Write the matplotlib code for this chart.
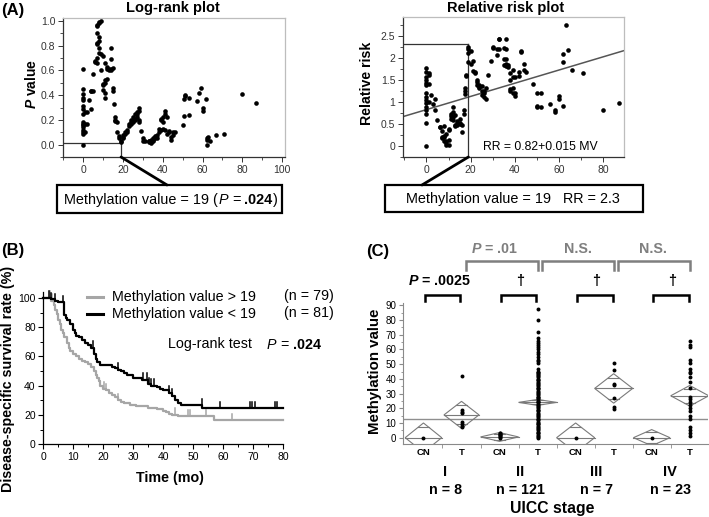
import matplotlib
matplotlib.use('Agg')
import matplotlib.pyplot as plt
from matplotlib.patches import Rectangle, Polygon, ConnectionPatch
from matplotlib.lines import Line2D
from matplotlib.ticker import MultipleLocator, FixedLocator
import numpy as np

plt.rcParams['font.family'] = ['Liberation Sans', 'DejaVu Sans']
plt.rcParams['mathtext.fontset'] = 'custom'
plt.rcParams['mathtext.rm'] = 'Liberation Sans'
plt.rcParams['mathtext.it'] = 'Liberation Sans:italic'
plt.rcParams['mathtext.bf'] = 'Liberation Sans:bold'
plt.rcParams['mathtext.bfit'] = 'Liberation Sans:italic:bold'

# ---------------- data ----------------
# Panel A left: log-rank plot (methylation cutoff vs P value)
lr_mv = [0,0,0,0,0,0,0,0,0,0,0,0,0,0,0,0,
         1,1,1, 2,2, 3, 4,4,4, 5,5, 6,6,
         7,7,7,7,7,7,7, 8,8,8,8,8,8, 9,9,9, 10,10,10,10, 11,11,11,11,11,
         12,12,12, 13,13, 14,14,14,14, 15,15,15, 15.5, 16,16,16, 17,17, 18,18, 19,19,
         20,20,20, 21,21, 22,22, 23,23, 24,24,24, 25,25,25, 26,26,26, 27,27,27, 28,28,28,28,
         29, 30,30, 31, 33,33,33, 34,34,34, 35,35,35, 36,36,36, 37,37, 38,38, 39,39,39, 40,40,40,
         41,41,41, 42,42, 43,43, 44,44, 45,45, 46, 50, 50.5,50.5, 51,51, 53,53, 57, 58, 59, 60,60,
         62, 62.5,62.5,62.5, 63, 64, 67, 71, 80, 87]
lr_p = [0.61,0.45,0.41,0.38,0.36,0.31,0.29,0.25,0.18,0.17,0.16,0.14,0.12,0.10,0.09,0.00,
        0.26,0.17,0.10, 0.26,0.17, 0.36, 0.43,0.43,0.29, 0.57,0.43, 0.67,0.68,
        0.97,0.96,0.90,0.82,0.81,0.70,0.66, 0.99,0.98,0.87,0.84,0.78,0.74, 1.00,0.73,0.60,
        0.72,0.49,0.48,0.44, 0.66,0.52,0.50,0.42,0.38,
        0.63,0.61,0.53, 0.61,0.60, 0.78,0.69,0.61,0.60, 0.62,0.46,0.43, 0.33, 0.22,0.20,0.19,
        0.18,0.10, 0.07,0.05, 0.024,0.03,
        0.06,0.08,0.05, 0.09,0.10, 0.10,0.12, 0.15,0.17, 0.17,0.18,0.20, 0.20,0.22,0.18,
        0.25,0.20,0.21, 0.26,0.25,0.22, 0.30,0.27,0.20,0.18,
        0.11, 0.05,0.03, 0.03, 0.03,0.02,0.03, 0.02,0.04,0.01, 0.03,0.05,0.04, 0.05,0.06,0.07,
        0.05,0.08, 0.13,0.10, 0.20,0.21,0.12, 0.22,0.13,0.18,
        0.27,0.25,0.12, 0.22,0.09, 0.10,0.11, 0.04,0.06, 0.10,0.08, 0.10, 0.16, 0.23,0.37,
        0.40,0.39, 0.24,0.38, 0.35, 0.42, 0.46, 0.30,0.27,
        0.37, 0.05,0.04,0.00, 0.06, 0.03, 0.08, 0.09, 0.41, 0.34]
cut_mv = 19
cut_p = 0.024

# Panel A right: relative risk plot
rr_mv = [0,0,0,0,0,0,0,0,0,0,0,0,0,0,0,
         1,1,1,1, 2, 3, 4,4, 5, 6,6, 7,7,7, 8,8,8,8, 9,9,9,9, 10,10,10,10,
         11,11,11, 12,12,12,12, 13,13,13, 14,14,14, 15,15,15, 16,16, 17,17, 17.5,17.5,17.5, 18,18,
         19,19,19,19, 20,20, 21,21, 22,22, 23,23,23, 24,24,24, 25,25,25, 26,26,26, 27,27, 28, 29,
         30,30, 32,32, 33,33,33, 35,35,35, 36,36,36,36,36, 37,37, 38,38,38,38, 39,39,39,39, 40,40,40,
         42,42, 43,43, 44,44, 45, 48, 50,50,50, 52,52, 56, 58,58, 60,60, 62,62,62, 63, 64, 66, 71, 80, 87]
rr_val = [1.76,1.68,1.57,1.49,1.42,1.38,1.19,1.11,1.04,0.96,0.89,0.81,0.73,0.52,0.00,
          1.65,1.60,1.40,1.00, 1.15, 0.95, 1.05,0.80, 0.58, 0.43,0.43, 0.20,0.17,0.33,
          0.10,0.20,0.45,0.23, 0.05,0.27,0.10,0.02, 0.35,0.12,0.38,0.02,
          0.72,0.68,0.60, 0.88,0.77,0.66,0.58, 0.70,0.47,0.44, 0.55,0.47,0.52, 0.60,0.52,0.50,
          0.47,0.30, 0.80,0.72, 1.30,1.25,1.18, 1.60,1.58,
          2.25,2.20,2.10,1.90, 2.15,1.85, 1.92,1.70, 1.68,1.65, 1.50,1.45,1.38, 1.38,1.33,1.30,
          1.35,1.25,1.15, 1.10,1.20,1.25, 1.05,1.30, 1.60, 1.93,
          2.24,2.22, 2.05,2.20, 2.42,2.42,2.20, 1.98,2.22,1.83, 2.43,2.20,1.98,1.85,1.80,
          1.83,1.78, 1.65,1.50,1.25,1.28, 1.72,1.55,1.20,1.30, 1.55,1.12,1.20,
          1.68,1.58, 2.16,2.12, 1.85,1.72, 1.68, 1.40, 1.20,0.90,0.88, 1.20,0.88, 0.95,
          0.82,0.77, 1.05,1.12, 2.08,1.90,0.90, 2.75, 2.17, 1.73, 1.66, 0.82, 0.97]
rr_intercept = 0.82
rr_slope = 0.015
cut_rr = 2.3

# Panel B: Kaplan-Meier curves
hi_t = [0, 2.5, 3.5, 4, 4.5, 5, 5.5, 6, 6.5, 7, 8, 8.5, 9, 10, 11, 12, 13, 14, 15, 16, 17,
        17.5, 18, 18.5, 19, 20, 21, 22, 23, 24, 25, 26, 27, 29, 31, 35, 38, 40, 41, 42, 43, 45, 57]
hi_s = [100, 98, 95, 92, 89, 85, 82, 78, 76, 73, 69, 66, 64, 62, 60, 58, 57, 56, 55, 53, 50,
        47, 45, 43, 40, 38, 37, 35, 34, 32, 30, 29, 28, 27, 26, 25, 24, 23, 22, 21, 20, 19, 16.5]
hi_cens = [2.2, 2.8, 20.2, 21, 25, 44, 48.2, 49, 54.1, 63]
lo_t = [0, 2.5, 4, 5, 7, 7.5, 8, 9, 10, 10.5, 11, 12, 13, 14, 15, 16, 17, 17.5, 18, 19, 23,
        24, 25, 26, 27, 28, 30, 33, 35, 36, 38, 39, 40, 42, 43, 44, 45, 46, 53]
lo_s = [100, 99, 98, 97, 88, 86, 85, 82, 78, 76, 74, 73, 71, 69, 68, 66, 62, 58, 56, 54, 53,
        52, 51, 50, 49, 47, 45, 44, 41, 40, 39, 38, 37, 35, 33, 30, 28, 26.5, 24.5]
lo_cens = [1.8, 2.6, 4, 6.7, 16.7, 25, 33.3, 34.4, 35.2, 36, 37, 42, 43, 52.8, 58.9, 68.9,
           69.7, 70.6, 77.2, 78]
n_hi, n_lo = 79, 81

# Panel C: methylation value by UICC stage
cat_labels = ['CN', 'T', 'CN', 'T', 'CN', 'T', 'CN', 'T']
stages = ['I', 'II', 'III', 'IV']
stage_n = [8, 121, 7, 23]
cn1 = [0]
t1 = [42, 19, 17.5, 17, 10.5, 9, 8, 7.5]
cn2 = [0, 0.5, 1, 1.5, 2, 2.5, 3, 3.5]
t2 = [87.5, 80, 72, 67.5, 66, 64.5, 63, 61.5, 60, 58.5, 57, 55, 53, 52, 50.5, 47, 45, 44.5, 44,
      43, 42.5, 42, 41, 40, 39.5, 39, 38, 37, 36.5, 36, 35, 34, 33.5, 33, 32, 31, 30.5, 30, 29,
      28, 27.5, 27, 26, 25, 24.5, 24, 23, 22, 21.5, 21, 20, 19, 18.5, 18, 17, 16, 15.5, 15, 14,
      13, 12.5, 12, 11, 10, 9.5, 9, 8, 7, 6.5, 6, 5, 4, 3.5, 3, 2, 1, 0.5, 0]
cn3 = [0]
t3 = [51, 46, 36.5, 35.5, 27, 21, 19.5]
cn4 = [0]
t4 = [65.5, 63, 61.5, 53, 50.5, 46.5, 45, 44, 41.5, 38, 33.5, 28, 26.5, 24.5, 22, 20, 18, 15,
      13, 7, 5, 3, 1]
group_means = [0, 15.5, 0.5, 24, 0, 33.5, 0, 28.5]
group_ci = [10, 9.2, 3, 2, 10, 10, 5.5, 7]
grand_line = 12.5

# ---------------- figure ----------------
W, H = 709, 517
fig = plt.figure(figsize=(7.09, 5.17), dpi=100)
renderer = fig.canvas.get_renderer()


def rect(l, t, r, b):
    return [l / W, 1 - b / H, (r - l) / W, (b - t) / H]


def fx(x):
    return x / W


def fy(y):
    return 1 - y / H


def ftext(x, y, s, **kw):
    kw.setdefault('ha', 'center')
    kw.setdefault('va', 'center')
    fig.text(fx(x), fy(y), s, **kw)


def _w(s, **kw):
    t1 = fig.text(0, 0, '|' + s + '|', **kw)
    w1 = t1.get_window_extent(renderer).width
    t1.remove()
    t2 = fig.text(0, 0, '||', **kw)
    w2 = t2.get_window_extent(renderer).width
    t2.remove()
    return w1 - w2


def rich(x, y, pieces, fontsize, ha='center', color='black'):
    """pieces: list of (text, style-dict); y is visual centre of capitals (px)."""
    widths = [_w(s, fontsize=fontsize, **st) for s, st in pieces]
    total = sum(widths)
    start = x - total / 2 if ha == 'center' else x
    base = y + 0.358 * fontsize * 100 / 72
    for (s, st), w in zip(pieces, widths):
        lead = len(s) - len(s.lstrip(' '))
        off = _w(' ' * lead, fontsize=fontsize, **st) if lead else 0
        if s.strip():
            fig.text(fx(start + off), fy(base), s.strip(), fontsize=fontsize, ha='left',
                     va='baseline', color=color, **st)
        start += w


def fbox(l, t, r, b, lw=1.6):
    fig.add_artist(Rectangle((fx(l), fy(b)), fx(r) - fx(l), fy(t) - fy(b),
                             transform=fig.transFigure, fill=False, lw=lw, ec='black'))


def style_a(ax):
    for s in ['top', 'right']:
        ax.spines[s].set_color('#bdbdbd')
        ax.spines[s].set_linewidth(0.9)
    for s in ['left', 'bottom']:
        ax.spines[s].set_color('#333333')
        ax.spines[s].set_linewidth(0.9)
    ax.tick_params(which='major', length=3.5, width=0.7, labelsize=7.5, colors='#333333', pad=2)
    ax.tick_params(which='minor', length=2, width=0.6, colors='#333333')


REG = {}
IT = {'style': 'italic'}
BF = {'fontweight': 'bold'}

# ---- Panel A left ----
axA = fig.add_axes(rect(63, 18, 285, 157))
axA.scatter(lr_mv, lr_p, s=11, color='black', linewidths=0, zorder=3)
axA.set_xlim(-10.2, 101.5)
axA.set_ylim(-0.1, 1.024)
axA.xaxis.set_major_locator(MultipleLocator(20))
axA.xaxis.set_minor_locator(MultipleLocator(10))
axA.set_yticks([0, 0.2, 0.4, 0.6, 0.8, 1.0])
axA.set_yticklabels(['0.0', '0.2', '0.4', '0.6', '0.8', '1.0'])
axA.yaxis.set_minor_locator(MultipleLocator(0.1))
style_a(axA)
axA.plot([-10.2, cut_mv], [cut_p - 0.01, cut_p - 0.01], color='#333333', lw=0.9, zorder=2)
axA.plot([cut_mv, cut_mv], [cut_p - 0.01, -0.1], color='#333333', lw=0.9, zorder=2)
con = ConnectionPatch(xyA=(cut_mv, -0.1), coordsA='data', axesA=axA,
                      xyB=(fx(167), fy(185)), coordsB='figure fraction', lw=2, color='black')
fig.add_artist(con)
ftext(173, 8, 'Log-rank plot', fontsize=10.5, fontweight='bold')
ftext(32, 84, r'$\mathbfit{P}$ value', fontsize=10, fontweight='bold', rotation=90)
ftext(13, 11, '(A)', fontsize=12, fontweight='bold')
fbox(57, 185, 282, 213)
rich(171, 199, [('Methylation value = 19 (', REG), ('P', IT), (' = ', REG), ('.024', BF),
                (')', REG)], fontsize=10.4)

# ---- Panel A right ----
axR = fig.add_axes(rect(403, 17, 624, 157))
axR.scatter(rr_mv, rr_val, s=11, color='black', linewidths=0, zorder=3)
axR.set_xlim(-10.6, 89.4)
axR.set_ylim(-0.257, 2.925)
xx = np.array(axR.get_xlim())
axR.plot(xx, rr_intercept + rr_slope * xx, color='#555555', lw=1.1, zorder=2)
axR.xaxis.set_major_locator(MultipleLocator(20))
axR.xaxis.set_minor_locator(MultipleLocator(10))
axR.set_yticks([0, 0.5, 1, 1.5, 2, 2.5])
axR.set_yticklabels(['0', '0.5', '1', '1.5', '2', '2.5'])
axR.yaxis.set_minor_locator(MultipleLocator(0.25))
style_a(axR)
axR.plot([-10.6, cut_mv], [cut_rr, cut_rr], color='#333333', lw=0.9, zorder=2)
axR.plot([cut_mv, cut_mv], [cut_rr, -0.257], color='#333333', lw=0.9, zorder=2)
con2 = ConnectionPatch(xyA=(cut_mv, -0.257), coordsA='data', axesA=axR,
                       xyB=(fx(422), fy(185)), coordsB='figure fraction', lw=2, color='black')
fig.add_artist(con2)
ftext(540, 147, 'RR = 0.82+0.015 MV', fontsize=8.8)
ftext(506, 8, 'Relative risk plot', fontsize=10.5, fontweight='bold')
ftext(367, 83, 'Relative risk', fontsize=10.2, fontweight='bold', rotation=90)
fbox(385, 185, 643, 212)
ftext(513, 199, 'Methylation value = 19   RR = 2.3', fontsize=10.4)

# ---- Panel B ----
axB = fig.add_axes(rect(43.3, 292, 283.3, 444.3))
axB.set_xlim(0, 80)
axB.set_ylim(0, 104)
gray = '#a6a6a6'
for t, s, cens, col in [(hi_t, hi_s, hi_cens, gray), (lo_t, lo_s, lo_cens, 'black')]:
    tt = np.append(t, 80)
    ss = np.append(s, s[-1])
    axB.step(tt, ss, where='post', color=col, lw=1.6, clip_on=False)
    for c in cens:
        idx = np.searchsorted(tt, c, side='right') - 1
        yv = ss[idx]
        axB.plot([c, c], [yv, yv + 4.5], color=col, lw=1.1, clip_on=False)
for s in ['top', 'right']:
    axB.spines[s].set_visible(False)
for s in ['left', 'bottom']:
    axB.spines[s].set_linewidth(0.9)
axB.xaxis.set_major_locator(MultipleLocator(10))
axB.xaxis.set_minor_locator(MultipleLocator(5))
axB.yaxis.set_major_locator(FixedLocator([0, 20, 40, 60, 80, 100]))
axB.yaxis.set_minor_locator(FixedLocator([10, 30, 50, 70, 90]))
axB.tick_params(which='major', length=3.5, width=0.8, labelsize=7.5, pad=2)
axB.tick_params(which='minor', length=2, width=0.7)
ftext(13, 250, '(B)', fontsize=12, fontweight='bold')
ftext(8, 379, 'Disease-specific survival rate (%)', fontsize=10.3, fontweight='bold', rotation=90)
ftext(170, 478, 'Time (mo)', fontsize=10.3, fontweight='bold')
fig.add_artist(Line2D([fx(87), fx(103)], [fy(297.3), fy(297.3)], color=gray, lw=2.2))
fig.add_artist(Line2D([fx(87), fx(103)], [fy(314), fy(314)], color='black', lw=2.2))
ftext(112, 297.3, 'Methylation value > 19', fontsize=10.3, ha='left')
ftext(112, 314, 'Methylation value < 19', fontsize=10.3, ha='left')
ftext(284, 296, '(n = %d)' % n_hi, fontsize=10.3, ha='left')
ftext(284, 313, '(n = %d)' % n_lo, fontsize=10.3, ha='left')
ftext(168, 344, 'Log-rank test', fontsize=10.3, ha='left')
rich(267, 344, [('P', IT), (' = ', REG), ('.024', BF)], fontsize=10.3, ha='left')

# ---- Panel C ----
axC = fig.add_axes(rect(403.3, 303, 708, 444.3))
axC.set_xlim(-0.53, 7.48)
axC.set_ylim(-4.5, 91.6)
groups = [cn1, t1, cn2, t2, cn3, t3, cn4, t4]
hws = [0.48, 0.46, 0.5, 0.5, 0.5, 0.5, 0.48, 0.5]
dcol = '#7a7a7a'
axC.axhline(grand_line, color='#8f8f8f', lw=1.0, zorder=1)
for i, (vals, m, c, hw) in enumerate(zip(groups, group_means, group_ci, hws)):
    axC.add_patch(Polygon([(i - hw, m), (i, m + c), (i + hw, m), (i, m - c)], closed=True,
                          fill=False, ec=dcol, lw=0.8, zorder=2))
    axC.plot([i - hw, i + hw], [m, m], color=dcol, lw=0.8, zorder=2)
    d = c / np.sqrt(2)
    w = hw * (1 - 1 / np.sqrt(2))
    for yv in (m + d, m - d):
        axC.plot([i - w, i + w], [yv, yv], color=dcol, lw=0.8, zorder=2)
    axC.scatter([i] * len(vals), vals, s=8, color='black', linewidths=0, zorder=3)
for s in ['top', 'right']:
    axC.spines[s].set_visible(False)
axC.spines['left'].set_color('#8a8a8a')
axC.spines['bottom'].set_color('#8a8a8a')
axC.spines['left'].set_linewidth(0.8)
axC.spines['bottom'].set_linewidth(0.8)
axC.set_yticks(range(0, 91, 10))
axC.yaxis.set_minor_locator(MultipleLocator(5))
axC.set_xticks(range(8))
axC.set_xticklabels(cat_labels, fontsize=6.8, fontweight='bold')
axC.xaxis.set_minor_locator(FixedLocator([0.5, 1.5, 2.5, 3.5, 4.5, 5.5, 6.5]))
axC.tick_params(axis='x', which='major', length=0, pad=3)
axC.tick_params(axis='x', which='minor', length=3, color='#8a8a8a')
axC.tick_params(axis='y', which='major', length=3, color='#8a8a8a', labelsize=7, pad=2)
axC.tick_params(axis='y', which='minor', length=1.8, color='#8a8a8a')

# brackets
for k in range(4):
    x0, x1 = 2 * k + 0.03, 2 * k + 0.97
    axC.plot([x0, x0, x1, x1], [92.7, 97.3, 97.3, 92.7], color='black', lw=1.8,
             clip_on=False, solid_joinstyle='miter')
    if k > 0:
        axC.text((x0 + x1) / 2 + 0.03, 106.3, '\u2020', fontsize=10.5, fontweight='bold',
                 ha='center', va='center', clip_on=False)
axC.text(0.41, 106.3, r'$\mathbfit{P}$ = .0025', fontsize=10.3, fontweight='bold',
         ha='center', va='center', clip_on=False)
gcol = '#7f7f7f'
for k in range(3):
    x0, x1 = 2 * k + 1.12, 2 * k + 3.0
    axC.plot([x0, x0, x1, x1], [113.8, 120, 120, 113.8], color=gcol, lw=1.8,
             clip_on=False, solid_joinstyle='miter')
axC.text(1.88, 128.4, r'$\mathbfit{P}$ = .01', fontsize=10.3, fontweight='bold', color=gcol,
         ha='center', va='center', clip_on=False)
axC.text(4.05, 128.4, 'N.S.', fontsize=10.3, fontweight='bold', color=gcol,
         ha='center', va='center', clip_on=False)
axC.text(6.03, 128.4, 'N.S.', fontsize=10.3, fontweight='bold', color=gcol,
         ha='center', va='center', clip_on=False)

x_stage = [0.57, 2.54, 4.55, 6.48]
for xs, st, n in zip(x_stage, stages, stage_n):
    px = 423.5 + 38.05 * xs
    ftext(px, 471.7, st, fontsize=10.5, fontweight='bold')
    ftext(px, 490, 'n = %d' % n, fontsize=10.3, fontweight='bold')
ftext(552, 508.3, 'UICC stage', fontsize=11.3, fontweight='bold')
ftext(375, 371.7, 'Methylation value', fontsize=10.8, fontweight='bold', rotation=90)
ftext(378, 251, '(C)', fontsize=12, fontweight='bold')

fig.savefig('out.png', dpi=100)
